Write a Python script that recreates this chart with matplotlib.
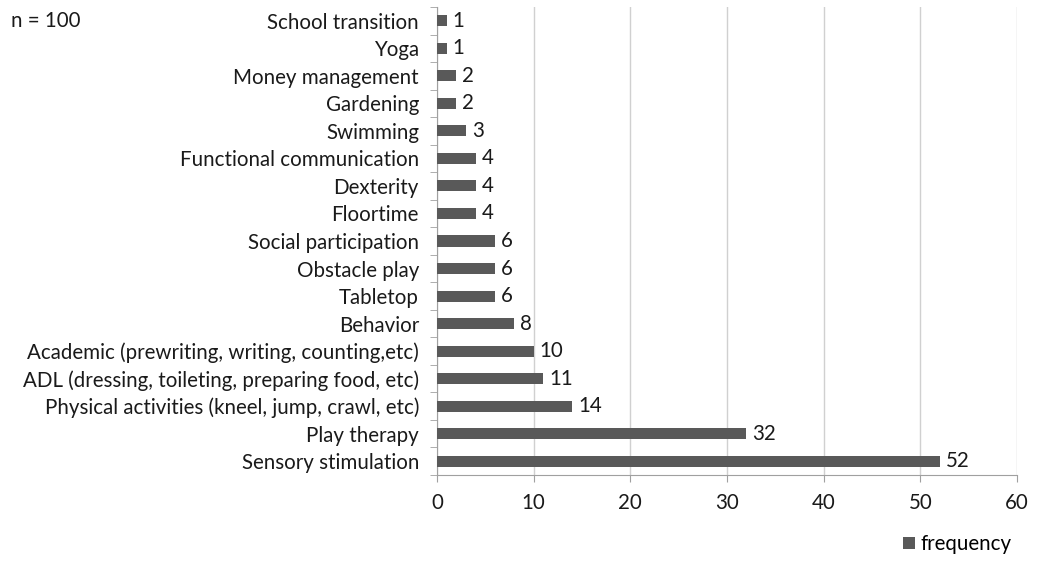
import matplotlib.pyplot as plt
import numpy as np

plt.rcParams['font.family'] = ['Lato', 'DejaVu Sans']

# interventions listed bottom to top
activities = [
    'Sensory stimulation',
    'Play therapy',
    'Physical activities (kneel, jump, crawl, etc)',
    'ADL (dressing, toileting, preparing food, etc)',
    'Academic (prewriting, writing, counting,etc)',
    'Behavior',
    'Tabletop',
    'Obstacle play',
    'Social participation',
    'Floortime',
    'Dexterity',
    'Functional communication',
    'Swimming',
    'Gardening',
    'Money management',
    'Yoga',
    'School transition',
]
frequency = [52, 32, 14, 11, 10, 8, 6, 6, 6, 4, 4, 4, 3, 2, 2, 1, 1]
x_ticks = [0, 10, 20, 30, 40, 50, 60]

bar_color = '#595959'
axis_color = '#a0a0a0'
text_color = '#1a1a1a'
fs = 14.8

fig = plt.figure(figsize=(10.41, 5.61), dpi=100)
ax = fig.add_axes([0.4198, 0.1533, 0.5571, 0.8342])

y = np.arange(len(activities))
bars = ax.barh(y, frequency, height=0.4, color=bar_color, zorder=3,
               label='frequency')
for yi, v in zip(y, frequency):
    ax.text(v + 0.6, yi, str(v), va='center', ha='left', fontsize=fs,
            color=text_color)

ax.set_xlim(0, 60)
ax.set_ylim(-0.5, len(activities) - 0.5)
ax.set_xticks(x_ticks)
ax.set_yticks(y)
ax.set_yticklabels(activities)
ax.set_yticks(np.arange(-0.5, len(activities), 1), minor=True)

ax.grid(axis='x', color='#d0d0d0', linewidth=1, zorder=0)
for side in ['top', 'right']:
    ax.spines[side].set_visible(False)
for side in ['left', 'bottom']:
    ax.spines[side].set_color(axis_color)

ax.tick_params(axis='y', which='major', length=0, pad=13, labelsize=fs,
               labelcolor=text_color)
ax.tick_params(axis='y', which='minor', length=5, color=axis_color)
ax.tick_params(axis='x', which='major', length=5, color=axis_color,
               labelsize=fs, labelcolor=text_color, pad=8)

fig.text(0.011, 0.962, 'n = 100', fontsize=fs, va='center', color=text_color)

fig.legend(handles=[bars], labels=['frequency'], loc='center right',
           bbox_to_anchor=(0.99, 0.03), frameon=False, fontsize=fs,
           handlelength=0.55, handleheight=0.55, handletextpad=0.3)

fig.savefig('out.png', dpi=100)
